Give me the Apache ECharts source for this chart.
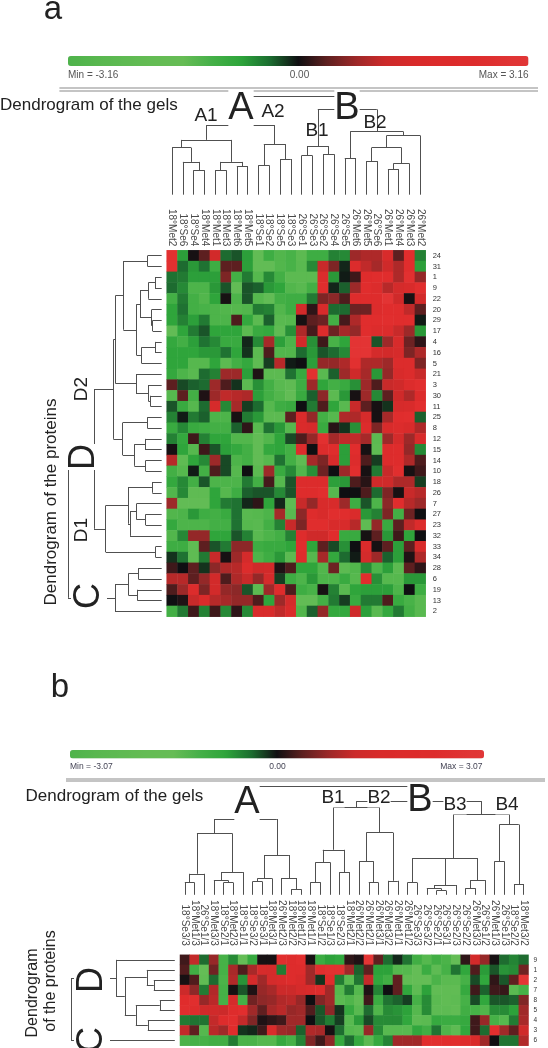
<!DOCTYPE html>
<html>
<head>
<meta charset="utf-8">
<title>Heatmaps</title>
<style>
  html, body { margin: 0; padding: 0; background: #fff; }
  #chart { width: 548px; height: 1048px; }
</style>
<script src="https://cdn.jsdelivr.net/npm/echarts@6/dist/echarts.min.js"></script>
</head>
<body>
<div id="chart"></div>
<script>
var font = 'Liberation Sans';

// --- panel a data ---
var gelsA = ['18°Met2','18°Se6','18°Se4','18°Met4','18°Met1','18°Met3','18°Met6','18°Met5','18°Se1','18°Se2','18°Se5','18°Se3',
  '26°Se1','26°Se3','26°Se2','26°Se4','26°Se5','26°Met6','26°Met5','26°Se6','26°Met1','26°Met4','26°Met3','26°Met2'];
var proteinsA = ['24','31','1','9','22','20','29','17','4','16','5','21','3','30','11','25','8','12','15','14','10','18','26','7','27','23','32','33','34','28','6','19','13','2'];
var valuesA = [
  [2.6,-1.5,0.05,0.5,1.7,-0.8,-0.6,-1.5,-2.8,-1.9,-2.3,-2.1,-2.6,-1.9,-1.9,-1.1,-1.2,1.0,1.2,1.2,2.0,0.5,2.4,-1.1],
  [2.6,-0.8,-1.4,-0.9,-1.9,0.5,0.5,-1.5,-2.8,-2.8,-2.3,-2.1,-2.5,-1.2,1.5,0.7,-0.2,2.2,1.4,1.1,1.6,1.2,2.4,-1.5],
  [-0.9,-1.0,-1.5,-1.5,-1.5,0.7,-2.0,-1.0,-2.4,-1.2,-2.0,-2.6,-2.6,-2.6,2.2,-1.4,-0.1,0.3,2.3,2.4,2.4,1.2,2.6,0.9],
  [-0.8,-1.2,-2.2,-2.2,-1.4,-0.6,-2.8,-0.6,-0.7,-1.4,-1.6,-2.3,-2.5,-2.0,2.4,-0.2,-0.7,1.0,2.4,2.2,1.3,1.8,2.0,2.5],
  [-2.0,-1.0,-2.0,-2.3,-1.6,0.05,-2.2,-0.6,-2.4,-2.8,-2.0,-1.9,-1.9,-1.0,0.7,0.8,0.4,2.3,2.3,2.3,2.8,1.6,0.05,1.7],
  [-1.6,-0.9,-2.0,-2.1,-2.2,-2.3,-2.4,-2.3,-1.0,-1.1,-2.3,-1.9,1.7,0.2,2.0,-0.8,-0.8,0.6,0.6,2.2,2.4,2.4,1.4,0.5],
  [-1.6,-1.1,-1.5,-1.0,-2.2,-2.2,0.4,-1.7,-2.6,-0.7,-2.5,-2.4,0.05,0.5,0.6,-2.0,0.35,1.2,2.4,2.4,2.5,2.4,2.4,-0.1],
  [-2.8,-1.6,-1.0,-0.6,-1.6,-1.6,-1.6,-2.6,-1.8,-1.7,-2.7,-1.3,1.2,0.35,2.2,0.6,1.1,0.9,2.4,2.2,2.2,1.5,1.0,-1.4],
  [-1.7,-2.0,-1.5,-0.9,-1.2,-1.8,-1.8,-0.2,-1.2,1.1,-1.5,-2.2,1.7,-1.3,0.3,-2.1,-1.6,2.8,2.8,-0.6,1.0,2.0,0.6,0.2],
  [-1.6,-1.6,-1.6,-1.4,-1.4,-0.9,-1.6,-0.3,-2.6,0.4,-2.3,-2.3,-0.8,-1.4,-0.6,-0.8,-1.2,2.8,2.8,1.8,1.7,1.9,0.7,1.2],
  [-1.6,-1.6,-2.4,-2.4,-1.6,-2.6,-2.0,-1.7,-2.7,-0.4,1.3,-0.1,0.0,-1.5,0.9,0.9,1.2,2.6,1.2,1.2,1.0,2.2,2.2,0.7],
  [-1.7,-2.2,-2.5,-0.8,-1.1,1.0,1.0,-1.5,0.1,-2.6,-2.6,-0.9,-1.8,2.6,-2.5,-0.7,1.0,1.6,1.1,-1.4,0.9,2.0,2.2,1.5],
  [0.5,-0.5,-0.7,-0.8,1.0,0.4,-0.3,-2.6,-1.3,-2.0,-2.5,-2.7,-1.9,1.0,-1.6,-2.0,-1.8,-1.3,1.0,0.4,1.5,1.6,2.2,2.5],
  [-2.4,0.5,-2.0,0.1,1.0,1.4,1.3,1.2,-1.5,-2.0,-2.3,-2.8,-1.8,-0.7,0.8,-2.6,-1.4,0.05,1.0,-1.2,0.5,1.6,1.2,2.2],
  [-0.6,-1.8,-2.4,-0.8,1.9,-1.2,1.1,-0.4,-0.8,-2.4,-1.9,-1.8,0.0,-1.0,0.4,-1.6,-2.5,1.5,0.5,0.05,-0.3,1.9,2.0,2.5],
  [-1.1,-0.1,-1.0,-0.7,-2.2,-2.2,0.05,-1.0,-1.4,-2.6,-2.6,0.5,2.1,0.9,-2.0,-2.4,1.2,1.2,1.9,0.05,1.1,2.4,2.5,-0.7],
  [-1.8,-1.2,-1.8,-1.9,-2.0,-2.0,-0.7,0.2,-2.5,-0.9,-1.4,-2.4,2.1,1.9,-1.8,0.15,-0.3,-1.3,2.2,0.7,2.0,2.2,2.0,1.2],
  [-1.1,-1.7,0.3,-1.1,-1.6,-1.6,-2.3,-2.3,-2.8,-2.3,-1.6,-0.5,0.4,0.9,2.6,1.1,1.4,1.4,1.1,-2.6,1.0,1.8,1.0,2.0],
  [0.05,-1.6,-2.4,0.3,-0.6,-1.5,-1.7,-2.0,-2.8,-1.7,-1.6,-2.0,2.2,0.0,2.2,2.4,-1.5,2.4,0.05,-2.7,2.2,2.3,0.9,-1.2],
  [1.3,-2.7,-1.6,-1.2,1.0,-0.5,-2.2,-2.0,-2.8,-2.4,-0.9,-2.0,-2.7,1.1,0.7,2.0,-1.5,2.2,0.4,-0.4,2.2,2.3,1.2,0.4],
  [-2.0,-2.4,-0.1,-2.0,0.4,-0.5,-2.4,0.0,-2.6,1.0,-1.8,-1.2,-2.3,-1.3,0.6,0.0,1.0,2.5,0.05,-1.0,1.5,2.5,0.05,0.3],
  [-1.7,-1.2,-2.0,-0.6,-2.2,-2.2,-2.2,-1.0,-2.0,0.35,-2.4,-0.6,2.2,2.2,2.2,-1.5,-1.4,0.4,0.15,1.6,1.6,1.2,1.2,-0.4],
  [-2.3,-1.2,-2.7,-2.7,-1.6,-2.4,-1.9,-0.7,-0.6,-0.6,-1.2,-0.6,2.3,2.3,2.5,-2.4,0.0,0.0,0.4,-0.8,0.7,0.05,1.5,1.3],
  [1.0,-2.8,-2.8,-2.8,-1.6,-1.0,-0.9,-0.2,0.2,-1.6,-0.2,-2.7,1.5,0.9,2.0,2.0,1.0,-1.9,-0.6,-2.2,0.8,2.4,1.3,1.0],
  [-2.3,-2.2,-1.4,-1.9,-2.0,-1.8,-0.9,-2.5,-2.4,-2.2,1.1,-2.5,0.8,2.3,2.0,2.5,2.4,2.1,-1.4,-1.1,0.7,-2.0,0.6,0.0],
  [-1.7,-2.2,-2.2,-2.2,-2.0,-2.0,-0.9,-2.4,-2.5,-2.0,-1.1,1.5,0.7,2.4,2.4,2.0,2.0,1.3,-2.7,0.9,-1.8,0.5,1.4,2.2],
  [-2.3,-1.2,0.9,0.9,-1.6,-1.6,-0.6,-1.1,-2.5,-2.2,-2.0,-1.1,2.3,1.6,1.6,2.4,-1.8,-1.8,0.05,0.5,-1.4,0.3,-1.6,0.0],
  [-1.9,-1.9,-2.7,0.5,-0.6,-1.0,0.8,0.8,-1.9,-1.8,-1.8,-1.6,2.4,-1.6,0.5,-0.5,-1.3,0.0,2.1,0.05,0.5,-1.5,0.5,2.0],
  [-0.3,-0.9,-2.7,-1.0,1.5,0.05,1.0,1.8,-2.2,-1.9,-1.4,-2.6,2.3,-2.4,1.1,-1.7,-0.8,-0.1,1.8,1.0,-0.7,-1.5,0.1,1.2],
  [0.3,0.0,0.5,-0.3,0.8,1.2,1.3,2.2,1.6,1.7,0.1,0.4,-1.6,-1.6,-2.3,0.6,-2.6,-2.3,-1.2,-2.2,-1.5,-2.6,0.5,0.2],
  [1.3,1.3,0.5,0.9,1.7,0.4,1.2,1.5,0.9,1.8,-0.4,-1.9,-2.2,-1.4,-2.2,-2.2,-1.8,-2.4,2.4,-1.3,-2.4,-2.4,-1.4,-1.4],
  [0.4,1.0,2.2,0.7,1.7,0.9,0.8,-0.6,-2.6,1.0,2.3,0.4,-1.9,-2.1,0.05,-1.1,-2.5,-1.6,-1.5,-1.5,-1.5,-2.2,0.0,-1.9],
  [0.0,0.1,1.5,2.1,1.3,1.1,0.9,0.9,0.4,-1.6,1.0,1.8,-2.8,-2.8,-2.0,-1.0,-0.4,-1.8,-1.0,-1.0,0.4,-1.8,-2.1,-2.5],
  [-2.0,-1.0,0.3,-1.1,0.3,-1.2,0.2,-1.2,2.0,2.0,1.4,2.1,-2.3,-0.7,0.9,-1.7,-1.7,1.6,-1.5,-2.5,-1.7,-1.0,-2.0,-2.5]
];
// dendrograms: leaf = column/row index, node = [height, left, right]
var gelTreeA = [98, [69.6, [54.8, [47.1, 0, [32.8, 1, [24.5, 2, 3]]], [32.8, [24.5, 4, 5], [28.6, 6, 7]]],
    [50.6, [29.4, 8, 9], [35.7, 10, 11]]],
  [85.3, [48.6, [39.1, 12, 13], [40.5, 14, 15]],
    [63, [36.7, 16, 17], [59.1, [47.1, [33.6, 18, 19], [31.1, [25.5, 20, 21], 22]], 23]]]];
var proteinTreeA = [93.7,
  [67.7,
    [48.3,
      [46, [38.3, [14, 0, 1], [25, [21.7, [13.3, [6.7, 2, 3], 4], [10, 5, [9, 6, 7]]], [20, [6.7, 8, 9], 10]]],
        [25.7, 11, [13.3, 12, [11, 13, 14]]]],
      [39, [14.3, 15, 16], [27.3, [16.7, 17, 18], [16, 19, 20]]]],
    [56, [33.7, [9.3, 21, 22], [31.7, [25, 23, [16, 24, 25]], 26]], [6, 27, 28]]],
  [46.7, [33.3, [23.3, 29, 30], [24.3, 31, 32]], 33]];

// --- panel b data ---
var gelsB = ['18°Se3/3','18°Met1/3','26°Se1/1','18°Met3/3','18°Se2/1','18°Met2/3','18°Se1/1','18°Se3/2','18°Se3/1','18°Met3/1','26°Met2/3','18°Met2/2',
  '18°Met1/2','18°Met1/1','18°Se1/2','18°Se1/3','18°Se2/3','18°Met2/1','26°Met2/2','26°Met2/1','26°Met3/1','26°Met3/2','26°Met1/1','26°Met1/2',
  '26°Se3/3','26°Se3/2','26°Se2/1','26°Se3/1','26°Se2/3','26°Se2/2','26°Met3/3','26°Se1/2','26°Met1/3','26°Se1/3','18°Se2/2','18°Met3/2'];
var proteinsB = ['9','1','2','7','8','5','4','3','6'];
var valuesB = [
  [0.3,1.4,-0.8,0.9,-2.0,-1.2,-2.8,-1.7,0.05,0.05,2.4,2.2,2.4,0.05,-1.8,-1.5,-1.6,0.2,0.1,2.8,0.5,-0.8,-0.2,-0.9,-1.9,-2.3,-1.9,-2.1,-2.8,0.2,1.7,0.9,0.05,-0.8,-1.1,-0.8],
  [0.4,-1.9,-2.8,0.6,-2.0,1.1,0.4,1.1,1.9,1.8,-1.0,2.2,2.2,1.0,2.4,2.6,2.6,1.0,-0.7,0.5,-1.5,-1.5,-2.3,-2.3,-2.8,-1.8,-2.6,-2.0,-0.9,-1.6,0.4,-1.4,-0.6,-1.3,-1.2,0.6],
  [0.05,0.4,-2.7,-0.8,-2.1,1.2,-1.3,1.8,1.0,1.8,2.0,2.2,2.0,1.0,-0.3,2.3,-1.0,-2.5,-0.9,1.4,-1.6,-1.9,0.5,-2.7,-2.8,-2.8,-2.1,-2.5,-2.5,-2.0,-0.5,-1.6,0.2,-0.6,0.5,2.8],
  [1.5,0.8,-1.0,1.2,-2.0,0.05,-0.6,0.1,0.9,1.1,1.5,1.5,1.8,2.0,2.2,1.0,-2.3,-1.0,-2.3,0.1,-1.1,0.0,0.5,-1.6,-2.6,-1.5,-2.7,-2.7,-2.7,-1.7,0.3,-0.7,0.3,0.25,-2.5,-2.0],
  [2.3,2.4,0.9,1.3,-2.0,1.8,-2.0,0.6,0.8,0.9,1.2,1.3,0.9,0.0,0.7,1.0,-2.5,-2.2,-2.7,0.3,-1.8,-0.9,-0.7,-0.4,-2.0,-1.2,-2.5,-2.7,-2.6,-2.0,-0.5,-1.6,-0.6,-0.6,-0.7,0.7],
  [2.4,2.2,1.6,1.6,1.5,2.2,2.4,1.0,0.5,1.1,1.3,0.9,1.0,0.4,-0.6,0.8,-0.3,-1.7,-2.4,-0.8,-2.2,-1.2,-1.3,-1.5,-2.3,-1.2,-2.6,-2.6,-2.7,-1.9,-2.0,-2.2,-1.2,-1.2,-1.5,1.0],
  [-1.0,-0.9,-0.9,1.4,2.2,2.4,1.4,0.7,0.1,0.2,0.3,1.0,1.0,0.0,-0.6,-1.0,-0.4,-2.4,-1.4,-0.5,-1.2,-1.2,-1.2,-1.6,-2.6,-2.5,-1.7,-1.8,-1.8,-1.7,0.3,0.9,-2.0,-2.3,-1.0,1.1],
  [1.4,0.5,-2.3,1.3,1.0,2.3,-0.3,-0.2,0.3,2.0,1.0,0.9,-0.7,1.2,1.1,0.05,-0.8,-2.3,-2.5,0.9,-1.2,-2.4,-2.4,-2.4,-1.6,-1.9,-0.9,-2.2,-2.6,-1.6,0.3,-0.8,2.4,1.0,0.5,1.6],
  [-2.1,-2.0,-2.0,-1.9,-1.9,-1.0,-2.1,-2.1,-2.3,-2.3,-1.7,-2.0,-1.1,0.7,0.3,0.8,-1.7,-0.8,-1.7,-2.5,-1.7,-1.1,1.0,1.0,1.0,2.4,2.4,2.4,2.4,2.2,2.0,1.0,0.0,-0.9,-0.9,1.2]
];
var gelTreeB = [108.7,
  [75.8, [61.5, [21, [12.2, 0, 1], 2], [22.7, [14.3, 3, [12.2, 4, 5]], 6]],
    [39.8, [16.4, [13.3, 7, 8], 9], [16.8, 10, [5.6, 11, 12]]]],
  [93.7,
    [87.7, [45, [32.5, [12.6, 13, 14], 15], [22.7, 16, 17]],
      [62.2, [33.5, 18, [12.2, 19, 20]], [14, 21, 22]]],
    [80.7,
      [36.7, [36.7, [12.2, 23, 24], [9.8, [6.3, 25, [4.2, 26, 27]], 28]], [14.7, [6.6, 29, 30], 31]],
      [70.3, [33.5, 32, 33], [10.8, 34, 35]]]]];
var proteinTreeB = [103.8, [58.7, 0, [50, [28, 1, [21, 2, 3]], [39, [15, 4, 5], [27, 6, 7]]]], 8];

var rangeA = 3.16;
var rangeB = 3.07;
// the printed colour bars
var barRamp = ['#4eb34b','#58b74f','#5fba52','#64bc54','#66bc55','#45b048','#2ea53b','#1b6e30','#0f0f12',
  '#5e2020','#9c2828','#cc2a2a','#d82a2a','#dc2b2b','#dd2c2c','#df3232','#e13737'];
// the cells
var cellRamp = ['#6cc05a','#55b84e','#2ea53b','#1d6a30','#0f0f12','#8b2828','#cf2a2a','#e02c2c','#e63a3a'];

function cells(values) {
  var out = [];
  values.forEach(function(row, y) {
    row.forEach(function(v, x) { out.push([x, y, v]); });
  });
  return out;
}

// walk a [height, left, right] tree into line segments; flip swaps the axes
function treeSegments(tree, flip) {
  var segs = [];
  function pt(p, h) { return flip ? [h, p] : [p, h]; }
  function walk(node) {
    if (typeof node === 'number') return { p: node, h: 0 };
    var l = walk(node[1]), r = walk(node[2]), h = node[0];
    segs.push({ coords: [pt(l.p, l.h), pt(l.p, h)] });
    segs.push({ coords: [pt(r.p, r.h), pt(r.p, h)] });
    segs.push({ coords: [pt(l.p, h), pt(r.p, h)] });
    return { p: (l.p + r.p) / 2, h: h };
  }
  walk(tree);
  return segs;
}

function hiddenAxis(idx, min, max, inverse) {
  return { type: 'value', show: false, gridIndex: idx, min: min, max: max, inverse: !!inverse };
}

function treeSeries(axisIdx, data) {
  return {
    type: 'lines', coordinateSystem: 'cartesian2d', xAxisIndex: axisIdx, yAxisIndex: axisIdx,
    data: data, silent: true, z: 3,
    lineStyle: { color: '#505050', width: 1, opacity: 1 }
  };
}

function heatSeries(axisIdx, values) {
  return {
    type: 'heatmap', xAxisIndex: axisIdx, yAxisIndex: axisIdx, data: cells(values), silent: true,
    itemStyle: { borderWidth: 0 }, emphasis: { disabled: true }, progressive: 0
  };
}

function txt(text, x, y, size, opts) {
  opts = opts || {};
  return {
    type: 'text', x: x, y: y, z: 100, rotation: opts.rot ? Math.PI / 2 : 0, silent: true,
    style: {
      text: text, fontFamily: font, fontSize: size,
      fill: opts.color || '#222', textAlign: opts.align || 'center', textVerticalAlign: 'middle',
      backgroundColor: opts.bg ? '#fff' : null
    }
  };
}

function rule(x1, x2, y) {
  return { type: 'line', z: 50, silent: true, shape: { x1: x1, y1: y, x2: x2, y2: y }, style: { stroke: '#8a8a8a', lineWidth: 1.2 } };
}

var chart = echarts.init(document.getElementById('chart'), null, { renderer: 'canvas' });

chart.setOption({
  animation: false,
  backgroundColor: '#fff',
  grid: [
    { left: 166.7, top: 250.3, width: 259, height: 366.4 },
    { left: 166.7, top: 94.7, width: 259, height: 100 },
    { left: 0, top: 250.3, width: 161.7, height: 366.4 },
    { left: 180, top: 954.8, width: 348.5, height: 90.9 },
    { left: 180, top: 784.8, width: 348.5, height: 110 },
    { left: 64.8, top: 954.8, width: 110, height: 90.9 }
  ],
  xAxis: [
    { type: 'category', gridIndex: 0, position: 'top', data: gelsA, axisLine: { show: false }, axisTick: { show: false },
      axisLabel: { rotate: 90, interval: 0, margin: 4, fontSize: 10, fontFamily: font, color: '#4a4a4a' } },
    hiddenAxis(1, -0.5, 23.5),
    hiddenAxis(2, 0, 161.7, true),
    { type: 'category', gridIndex: 3, position: 'top', data: gelsB, axisLine: { show: false }, axisTick: { show: false },
      axisLabel: { rotate: 90, interval: 0, margin: 9, fontSize: 10, fontFamily: font, color: '#4a4a4a' } },
    hiddenAxis(4, -0.5, 35.5),
    hiddenAxis(5, 0, 110, true)
  ],
  yAxis: [
    { type: 'category', gridIndex: 0, position: 'right', inverse: true, data: proteinsA, axisLine: { show: false }, axisTick: { show: false },
      axisLabel: { interval: 0, margin: 7, fontSize: 7.5, fontFamily: font, color: '#333' } },
    hiddenAxis(1, 0, 100),
    hiddenAxis(2, -0.5, 33.5, true),
    { type: 'category', gridIndex: 3, position: 'right', inverse: true, data: proteinsB, axisLine: { show: false }, axisTick: { show: false },
      axisLabel: { interval: 0, margin: 5, fontSize: 6.5, fontFamily: font, color: '#333' } },
    hiddenAxis(4, 0, 110),
    hiddenAxis(5, -0.5, 8.5, true)
  ],
  visualMap: [
    { type: 'continuous', seriesIndex: [], min: -rangeA, max: rangeA, orient: 'horizontal', left: 68, top: 56,
      itemWidth: 10, itemHeight: 460.5, padding: 0, calculable: false, hoverLink: false, inRange: { color: barRamp } },
    { type: 'continuous', seriesIndex: [], min: -rangeB, max: rangeB, orient: 'horizontal', left: 70, top: 750,
      itemWidth: 8.5, itemHeight: 414, padding: 0, calculable: false, hoverLink: false, inRange: { color: barRamp } },
    { type: 'continuous', show: false, seriesIndex: 0, min: -rangeA, max: rangeA, inRange: { color: cellRamp } },
    { type: 'continuous', show: false, seriesIndex: 3, min: -rangeB, max: rangeB, inRange: { color: cellRamp } }
  ],
  series: [
    heatSeries(0, valuesA),
    treeSeries(1, treeSegments(gelTreeA, false)),
    treeSeries(2, treeSegments(proteinTreeA, true)),
    heatSeries(3, valuesB),
    treeSeries(4, treeSegments(gelTreeB, false)),
    treeSeries(5, treeSegments(proteinTreeB, true))
  ],
  graphic: [
    // panel a
    txt('a', 53, 10, 33),
    txt('Min = -3.16', 68, 75, 10, { align: 'left', color: '#555' }),
    txt('0.00', 299.5, 75, 10, { color: '#555' }),
    txt('Max = 3.16', 528.5, 75, 10, { align: 'right', color: '#555' }),
    rule(59.4, 538, 88), rule(59.4, 538, 91),
    txt('Dendrogram of the gels', 0, 105, 17, { align: 'left' }),
    txt('A', 241, 109, 38, { bg: true }),
    txt('B', 347, 109, 38, { bg: true }),
    txt('A1', 206, 116, 19),
    txt('A2', 273, 112, 19),
    txt('B1', 317, 131, 19),
    txt('B2', 375, 123, 19),
    txt('Dendrogram of the proteins', 51, 502, 17, { rot: true }),
    txt('D2', 82, 389, 19, { rot: true, bg: true }),
    txt('D1', 82, 530, 19, { rot: true, bg: true }),
    txt('D', 84, 457, 36, { rot: true, bg: true }),
    txt('C', 89, 596, 36, { rot: true, bg: true }),
    // panel b
    txt('b', 60, 688, 33),
    txt('Min = -3.07', 70, 766.6, 8.5, { align: 'left', color: '#445' }),
    txt('0.00', 277.5, 766.6, 8.5, { color: '#445' }),
    txt('Max = 3.07', 482.5, 766.6, 8.5, { align: 'right', color: '#445' }),
    rule(66, 545, 779), rule(66, 545, 781),
    txt('Dendrogram of the gels', 25.5, 796, 17, { align: 'left' }),
    txt('A', 247, 803, 38, { bg: true }),
    txt('B', 420, 801, 38, { bg: true }),
    txt('B1', 333, 798, 19, { bg: true }),
    txt('B2', 379, 798, 19, { bg: true }),
    txt('B3', 455, 805, 19, { bg: true }),
    txt('B4', 507, 805, 19, { bg: true }),
    txt('Dendrogram', 33, 993, 16, { rot: true }),
    txt('of the proteins', 51, 981, 16, { rot: true }),
    txt('D', 92, 980, 36, { rot: true, bg: true }),
    txt('C', 92, 1040, 36, { rot: true, bg: true })
  ]
});
window.addEventListener('resize', function() { chart.resize(); });
</script>
</body>
</html>
